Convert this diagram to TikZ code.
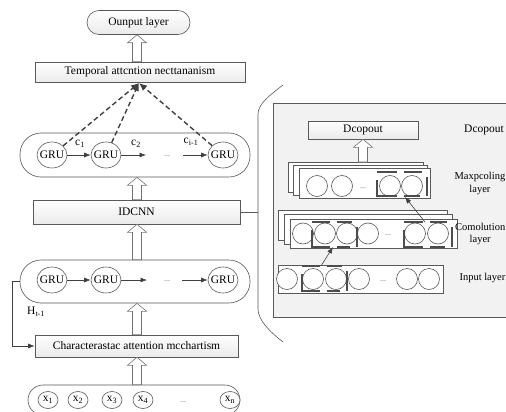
\documentclass[tikz,border=0pt]{standalone}
\usepackage{fontspec}
\setmainfont{Liberation Serif}
\usetikzlibrary{calc,shapes.geometric,arrows.meta}
\newcommand\hollarr[2]{%
  \draw[holl] ($(#1)+(-4.5,0)$) -- ($(#2)+(-4.5,8)$) -- ($(#2)+(-9.5,8)$) -- (#2) -- ($(#2)+(9.5,8)$) -- ($(#2)+(4.5,8)$) -- ($(#1)+(4.5,0)$) -- cycle;}
\newcommand\selbrk[4]{%
  \pgfmathsetmacro\bm{(#1+#3)/2}%
  \draw[brk] (#1,#2) -- (\bm-5,#2) (\bm+2,#2) -- (#3-5,#2)
    (#1,#2+8) -- (#1,#4) -- (\bm-5,#4) (\bm+2,#4) -- (#3-7,#4)
    (#3,#2+5) -- (#3,#4);}
\begin{document}
\begin{tikzpicture}[x=1pt,y=-1pt,
  font=\fontsize{11.5}{13}\selectfont,
  line/.style={draw=black!65,line width=0.6pt},
  box/.style={line, top color=white, bottom color=black!8, inner sep=0pt},
  cont/.style={line, fill=white, rounded corners=21pt, inner sep=0pt},
  gru/.style={ellipse, line, fill=white, minimum width=30pt, minimum height=26pt, inner sep=0pt},
  xin/.style={ellipse, line, fill=white, minimum width=20pt, minimum height=17pt, inner sep=0pt},
  cell/.style={circle, line, fill=white, minimum size=21pt, inner sep=0pt},
  layer/.style={line, fill=white, inner sep=0pt},
  panel/.style={line, fill=black!5, inner sep=0pt},
  holl/.style={draw=black!55, fill=white, line width=0.6pt},
  sarrow/.style={draw=black!75, line width=0.6pt, -{Latex[length=6.5pt,width=5pt]}},
  datt/.style={draw=black!75, line width=1.4pt, dash pattern=on 5pt off 3pt, -{Latex[length=8pt,width=7pt]}},
  brk/.style={draw=black!70, line width=1.8pt, line cap=butt},
  dots/.style={font=\fontsize{8}{8}\selectfont, text=black!60, inner sep=0pt},
  lbl/.style={inner sep=0pt},
  rlbl/.style={inner sep=0pt, anchor=east, align=center, font=\fontsize{10.5}{12.5}\selectfont}
]
\useasboundingbox (0,0) rectangle (506,412);
\clip (0,0) rectangle (506,412);
\coordinate (axis) at (137,0);

% ---------- left column ----------
\node[box, rounded corners=12pt, minimum width=103pt, minimum height=24pt] (out) at (138.5,22.5) {Ounput layer};
\node[box, minimum width=210pt, minimum height=20pt] (tb) at (140,72) {Temporal attcntion necttananism};

\node[cont, minimum width=230pt, minimum height=44pt] (cu) at (135,155) {};
\node[gru] (gu1) at (52,155) {\makebox[0pt]{GRU}};
\node[gru] (gu2) at (106,155) {\makebox[0pt]{GRU}};
\node[gru] (gu3) at (223,155) {\makebox[0pt]{GRU}};
\coordinate (u2e) at (146,155);
\coordinate (u3s) at (183,155);
\draw[sarrow] (gu1) -- (gu2);
\draw[sarrow] (gu2) -- (u2e);
\draw[sarrow] (u3s) -- (gu3);
\node[lbl] (c1) at (80,144) {c\textsubscript{1}};
\node[lbl] (c2) at (136,144) {c\textsubscript{2}};
\node[lbl] (ci) at (191,142) {c\textsubscript{i-1}};
\node[dots] (ud) at (167,156) {...};

\coordinate (att) at (139,83);
\draw[datt] (gu1) -- (att);
\draw[datt] (gu2) -- (att);
\draw[datt] (gu3) -- (att);

\node[box, minimum width=207pt, minimum height=24pt] (idc) at (136.5,212) {IDCNN};

\node[cont, minimum width=230pt, minimum height=43pt] (cd) at (135,281.5) {};
\node[gru] (gd1) at (52,280) {\makebox[0pt]{GRU}};
\node[gru] (gd2) at (106,280) {\makebox[0pt]{GRU}};
\node[gru] (gd3) at (223,280) {\makebox[0pt]{GRU}};
\coordinate (d2e) at (147,280);
\coordinate (d3s) at (182,280);
\draw[sarrow] (gd1) -- (gd2);
\draw[sarrow] (gd2) -- (d2e);
\draw[sarrow] (d3s) -- (gd3);
\node[dots] (dd) at (167,281) {...};

\node[box, minimum width=203pt, minimum height=22pt] (ch) at (136.5,346) {Characterastac attention mcchartism};
\draw[sarrow] (cd.west) -- ++(-7,0) |- (ch.west);
\node[lbl, anchor=west] (hl) at (27,312) {H\textsubscript{t-1}};

\node[cont, rounded corners=15pt, minimum width=212pt, minimum height=30pt] (xc) at (134,400) {};
\node[xin] (x1) at (48,400) {x\textsubscript{1}};
\node[xin] (x2) at (78,400) {x\textsubscript{2}};
\node[xin] (x3) at (112,400) {x\textsubscript{3}};
\node[xin] (x4) at (143,400) {x\textsubscript{4}};
\node[xin] (xn) at (230,400) {x\textsubscript{n}};
\node[dots] (xd) at (183,402) {...};

\hollarr{tb.north -| axis}{out.south -| axis}
\hollarr{idc.north -| axis}{cu.south -| axis}
\hollarr{cd.north -| axis}{idc.south -| axis}
\hollarr{ch.north -| axis}{cd.south -| axis}
\hollarr{xc.north -| axis}{ch.south -| axis}

% ---------- right panel ----------
\draw[line] (283,85) .. controls (270,95) and (258,104) .. (258,114) -- (258,309) .. controls (258,320) and (270,332) .. (283,342);
\coordinate (bj) at (258,212);
\draw[line] (idc.east) -- (bj);

\node[panel, anchor=north west, minimum width=250pt, minimum height=214pt] (pnl) at (273,103) {};

\node[box, minimum width=110pt, minimum height=18pt] (dr) at (363,130) {Dcopout};
\node[lbl] (drl) at (484,130) {Dcopout};

% maxpooling
\node[layer, anchor=north west, minimum width=135pt, minimum height=30pt] (mpa) at (288,162) {};
\node[layer, anchor=north west, minimum width=134pt, minimum height=30pt] (mpb) at (293,165) {};
\node[layer, anchor=north west, minimum width=131pt, minimum height=30pt] (mpf) at (299,168) {};
\node[cell] (m1) at (317,186) {};
\node[cell] (m2) at (342,186) {};
\node[dots] (md) at (363,188) {...};
\node[cell] (m3) at (390,186) {};
\node[cell] (m4) at (412,186) {};
\selbrk{377}{172}{427}{196}
\hollarr{mpa.north -| dr}{dr.south}
\node[rlbl] (mpl) at (505.5,183.5) {Maxpcoling\\layer};

% convolution
\node[layer, anchor=north west, minimum width=169pt, minimum height=30pt] (cva) at (278,210) {};
\node[layer, anchor=north west, minimum width=168pt, minimum height=30pt] (cvb) at (284,214) {};
\node[layer, anchor=north west, minimum width=167pt, minimum height=29pt] (cvf) at (290,219) {};
\node[cell] (k1) at (303,233.5) {};
\node[cell] (k2) at (325,233.5) {};
\node[cell] (k3) at (347,233.5) {};
\node[cell] (k4) at (368,233.5) {};
\node[dots] (kd) at (388,235) {...};
\node[cell] (k5) at (415,233.5) {};
\node[cell] (k6) at (438,233.5) {};
\selbrk{312}{222}{357}{247}
\selbrk{404}{222}{452}{247}
\node[rlbl] (cvl) at (505.5,234) {Comolution\\layer};

% input
\node[layer, anchor=north west, minimum width=165pt, minimum height=28pt] (inl) at (278,265) {};
\node[cell] (i1) at (287,279) {};
\node[cell] (i2) at (313,279) {};
\node[cell] (i3) at (336,279) {};
\node[cell] (i4) at (359,279) {};
\node[dots] (idt) at (383,281) {...};
\node[cell] (i5) at (407,279) {};
\node[cell] (i6) at (429,279) {};
\selbrk{302}{266}{347}{291}
\node[rlbl] (inlb) at (505.5,278) {Input layer};

\coordinate (p1) at (321,266);
\coordinate (p2) at (333,247);
\coordinate (p3) at (425,222);
\coordinate (p4) at (405,197);
\draw[sarrow] (p1) -- (p2);
\draw[sarrow] (p3) -- (p4);
\end{tikzpicture}
\end{document}
